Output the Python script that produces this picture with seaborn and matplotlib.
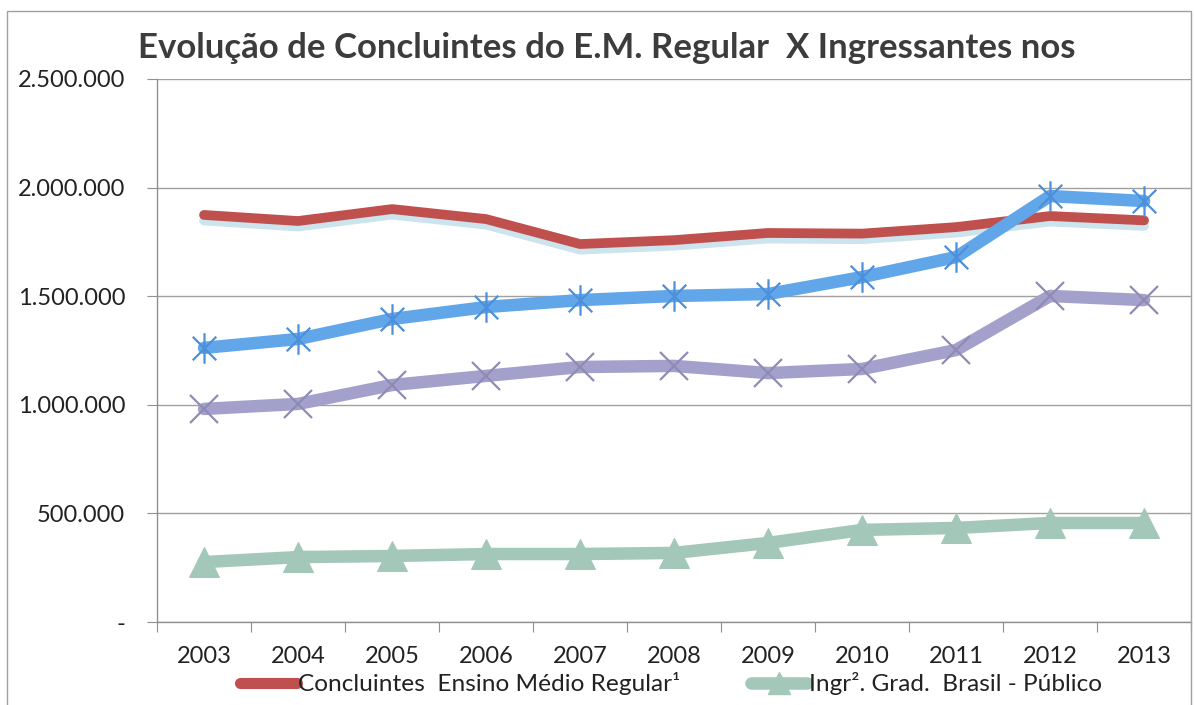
import numpy as np
import pandas as pd
import seaborn as sns
import matplotlib.pyplot as plt
import matplotlib.patheffects as pe
from matplotlib.path import Path
from matplotlib.lines import Line2D
from matplotlib.patches import Rectangle
from matplotlib.ticker import FixedLocator, FuncFormatter

# dados
anos = ['2003', '2004', '2005', '2006', '2007', '2008', '2009', '2010', '2011', '2012', '2013']
concluintes = [1874000, 1846000, 1901000, 1855000, 1740000, 1758000, 1791000, 1788000, 1818000, 1869000, 1849000]
ingr_total = [1262000, 1303000, 1395000, 1450000, 1482000, 1501000, 1510000, 1588000, 1680000, 1961000, 1938000]
ingr_outro = [981000, 1004000, 1091000, 1133000, 1174000, 1179000, 1146000, 1165000, 1252000, 1501000, 1482000]
ingr_publico = [276000, 299000, 304000, 313000, 313000, 318000, 364000, 424000, 433000, 456000, 456000]
leg_labels = ['Concluintes  Ensino Médio Regular\u00b9', 'Ingr\u00b2. Grad.  Brasil - Público']

sns.set_style('white')
plt.rcParams['font.family'] = ['Lato', 'DejaVu Sans']

pos = np.arange(len(anos))
df = pd.DataFrame({'pos': pos, 'conc': concluintes, 'tot': ingr_total,
                   'out': ingr_outro, 'pub': ingr_publico})

fig = plt.figure(figsize=(11.95, 7.05), dpi=100)
ax = fig.add_axes([0.1314, 0.1177, 0.8653, 0.7703])

# asterisco estilo Excel
ast = Path([(-1, -1), (1, 1), (-1, 1), (1, -1), (0, -1.3), (0, 1.3)],
           [Path.MOVETO, Path.LINETO, Path.MOVETO, Path.LINETO, Path.MOVETO, Path.LINETO])

red = '#C0504D'
blue = '#62A6EA'
purple = '#A3A1CC'
green = '#A3C7B9'

sns.lineplot(data=df, x='pos', y='conc', color=red, lw=7, ax=ax,
             path_effects=[pe.SimpleLineShadow(offset=(0, -4), shadow_color='#8cc4d8', alpha=0.45),
                           pe.Normal()])
sns.lineplot(data=df, x='pos', y='tot', color=blue, lw=9, ax=ax,
             marker=ast, ms=22, mec='#4C8FDA', mew=1.6, mfc='none')
sns.lineplot(data=df, x='pos', y='out', color=purple, lw=9, ax=ax,
             marker='x', ms=20, mec='#8E8CB4', mew=1.6)
sns.lineplot(data=df, x='pos', y='pub', color=green, lw=9, ax=ax,
             marker='^', ms=22, mec=green, mfc=green)

ax.set_xlim(-0.5, len(anos) - 0.5)
ax.set_ylim(0, 2500000)
ax.set_yticks(np.arange(0, 2500001, 500000))
ax.yaxis.set_major_formatter(FuncFormatter(
    lambda v, p: '-' if v == 0 else f'{int(v):,}'.replace(',', '.')))
ax.yaxis.grid(True, color='#A0A0A0', lw=1)

ax.xaxis.set_major_locator(FixedLocator(np.arange(-0.5, len(anos), 1.0)))
ax.xaxis.set_major_formatter(FuncFormatter(lambda v, p: ''))
ax.set_xticks(pos, minor=True)
ax.set_xticklabels(anos, minor=True)
ax.tick_params(axis='x', which='major', direction='out', length=7, color='#909090', bottom=True)
ax.tick_params(axis='x', which='minor', length=0, pad=17, labelsize=17, labelcolor='#222222')
ax.tick_params(axis='y', direction='out', length=7, color='#909090', left=True,
               labelsize=17, labelcolor='#222222', pad=16)
ax.set_xlabel('')
ax.set_ylabel('')

for s in ['top', 'right']:
    ax.spines[s].set_visible(False)
for s in ['left', 'bottom']:
    ax.spines[s].set_color('#909090')
    ax.spines[s].set_linewidth(1)

h1 = Line2D([], [], color=red, lw=8, solid_capstyle='round')
h2 = Line2D([], [], color=green, lw=9, marker='^', ms=16, mfc=green, mec=green)
fig.legend([h1, h2], leg_labels, loc='center', bbox_to_anchor=(0.5615, 0.030), ncol=2,
           frameon=False, fontsize=17.6, handlelength=2.3, handletextpad=0.05,
           columnspacing=2.9, labelcolor='#222222')

fig.text(0.508, 0.932, 'Evolução de Concluintes do E.M. Regular  X Ingressantes nos',
         ha='center', va='center', fontsize=25, fontweight='bold', color='#3C3C3C')

fig.add_artist(Rectangle((0.006, -0.01), 0.991, 0.994, transform=fig.transFigure,
                         fill=False, ec='#A0A0A0', lw=1))

fig.savefig('out.png', dpi=100)
